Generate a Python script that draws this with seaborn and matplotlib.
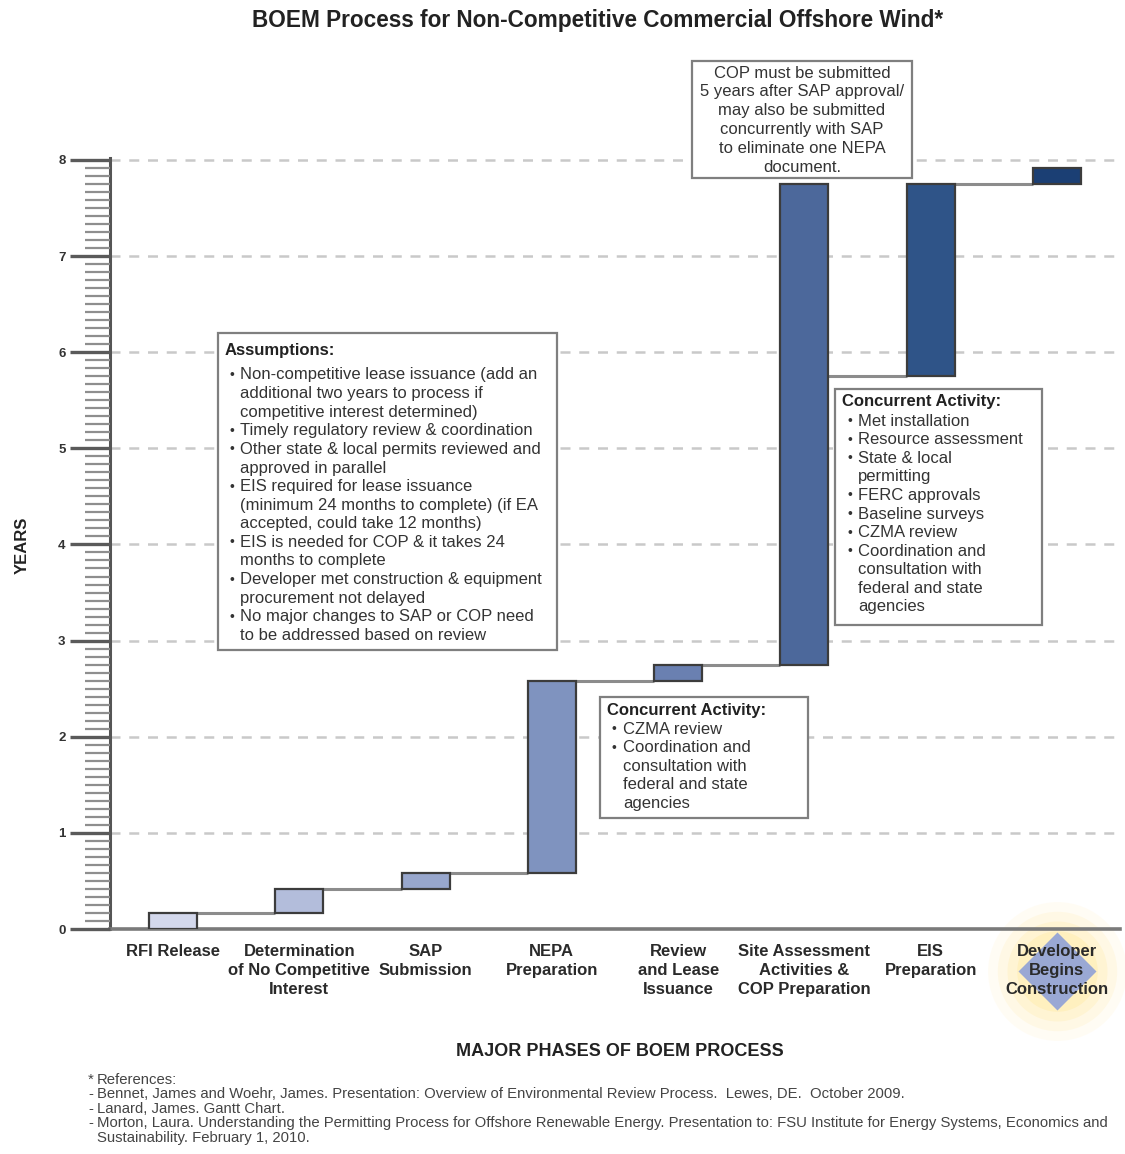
#Importing the libraries
import numpy as np
import pandas as pd
import matplotlib
matplotlib.use("Agg")
import matplotlib.pyplot as plt
import matplotlib.transforms as mtransforms
from matplotlib.patches import Rectangle
from matplotlib.ticker import MultipleLocator
import seaborn as sns

#chart data
phases = ["RFI Release", "Determination\nof No Competitive\nInterest", "SAP\nSubmission",
          "NEPA\nPreparation", "Review\nand Lease\nIssuance",
          "Site Assessment\nActivities &\nCOP Preparation", "EIS\nPreparation",
          "Developer\nBegins\nConstruction"]
start_years = [0.0, 0.17, 0.42, 0.58, 2.58, 2.75, 5.75, 7.75]
end_years = [0.17, 0.42, 0.58, 2.58, 2.75, 7.75, 7.75, 7.92]
bar_colors = ["#d3d8ec", "#b3bddb", "#98a7cd", "#7f93bf", "#6a80b1", "#4c689b", "#2f5488", "#1b3f74"]
year_ticks = [0, 1, 2, 3, 4, 5, 6, 7, 8]

assumptions = [
    ["Non-competitive lease issuance (add an", "additional two years to process if", "competitive interest determined)"],
    ["Timely regulatory review & coordination"],
    ["Other state & local permits reviewed and", "approved in parallel"],
    ["EIS required for lease issuance", "(minimum 24 months to complete) (if EA", "accepted, could take 12 months)"],
    ["EIS is needed for COP & it takes 24", "months to complete"],
    ["Developer met construction & equipment", "procurement not delayed"],
    ["No major changes to SAP or COP need", "to be addressed based on review"],
]
concurrent_nepa = [["CZMA review"], ["Coordination and", "consultation with", "federal and state", "agencies"]]
concurrent_site = [["Met installation"], ["Resource assessment"], ["State & local", "permitting"],
                   ["FERC approvals"], ["Baseline surveys"], ["CZMA review"],
                   ["Coordination and", "consultation with", "federal and state", "agencies"]]
cop_note = ["COP must be submitted", "5 years after SAP approval/", "may also be submitted",
            "concurrently with SAP", "to eliminate one NEPA", "document."]
references = ["Bennet, James and Woehr, James. Presentation: Overview of Environmental Review Process.  Lewes, DE.  October 2009.",
              "Lanard, James. Gantt Chart.",
              "Morton, Laura. Understanding the Permitting Process for Offshore Renewable Energy. Presentation to: FSU Institute for Energy Systems, Economics and",
              "Sustainability. February 1, 2010."]

df = pd.DataFrame({"phase": phases, "start": start_years, "end": end_years})
df["duration"] = df["end"] - df["start"]

sns.set_style("white")
plt.rcParams["font.family"] = ["Liberation Sans", "DejaVu Sans"]

W, H = 1125, 1154
fig = plt.figure(figsize=(W / 100, H / 100), dpi=100)
ax = fig.add_axes([110 / W, 1 - 929 / H, 1010 / W, 771 / H])

#bars floating from start to end
sns.barplot(data=df, x="phase", y="duration", order=phases, bottom=df["start"].values,
            width=0.38, color=bar_colors[0], saturation=1, errorbar=None,
            edgecolor="#3c3c3c", linewidth=1.6, zorder=3, ax=ax)
for patch, c in zip(ax.patches, bar_colors):
    patch.set_facecolor(c)

#connector lines between bars
x_idx = np.arange(len(phases))
ax.hlines(start_years[1:], x_idx[:-1] + 0.19, x_idx[1:] - 0.19, color="#8c8c8c", lw=2.2, zorder=2)

#dashed gridlines
for y in year_ticks[1:]:
    ax.axhline(y, color="#c9c9c9", lw=1.8, ls=(0, (4, 3.5)), zorder=0.5)

ax.set_axisbelow(False)
ax.set_xlim(-0.5, 7.5)
ax.set_ylim(0, 8.02)
ax.set_yticks(year_ticks)
ax.yaxis.set_minor_locator(MultipleLocator(1 / 12))
ax.tick_params(axis="y", which="both", left=True)
ax.tick_params(axis="y", which="major", length=29, width=2.4, color="#5a5a5a", labelsize=9.5, pad=3, labelcolor="#333333")
ax.tick_params(axis="y", which="minor", length=18, width=1.6, color="#8e8e8e")
ax.tick_params(axis="x", length=0, pad=11, labelsize=12, labelcolor="#2a2a2a")
for lbl in ax.get_yticklabels() + ax.get_xticklabels():
    lbl.set_fontweight("bold")
for lbl in ax.get_xticklabels():
    lbl.set_linespacing(1.32)
ax.set_xlabel("")
ax.set_ylabel("")
sns.despine(ax=ax)
ax.spines["left"].set_color("#555555")
ax.spines["left"].set_linewidth(2.2)
ax.spines["bottom"].set_color("#7a7a7a")
ax.spines["bottom"].set_linewidth(2.6)

#diamond with glow behind last label
trans = mtransforms.blended_transform_factory(ax.transData, ax.transAxes)
yd = (929 - 971) / 771
for ms, a in [(100, 0.08), (86, 0.12), (72, 0.16), (58, 0.22)]:
    ax.plot([7], [yd], "o", ms=ms, color="#ffe27a", alpha=a, mec="none", transform=trans, clip_on=False, zorder=1)
ax.plot([7], [yd], "D", ms=40, color="#9aa8d4", mec="none", transform=trans, clip_on=False, zorder=1.5)

#text boxes
def fx(px):
    return px / W

def fy(py):
    return 1 - py / H

def draw_box(x0, y0, x1, y1):
    fig.add_artist(Rectangle((fx(x0), fy(y1)), (x1 - x0) / W, (y1 - y0) / H, transform=fig.transFigure,
                             facecolor="white", edgecolor="#7f7f7f", lw=1.6))

def bullet_box(title, items, tx, ty, bx, lx, ly, dy):
    fig.text(fx(tx), fy(ty), title, fontsize=12, fontweight="bold", color="#222222", va="center")
    k = 0
    for item in items:
        for j, line in enumerate(item):
            if j == 0:
                fig.text(fx(bx), fy(ly + k * dy), "\u2022", fontsize=10, color="#333333", va="center")
            fig.text(fx(lx), fy(ly + k * dy), line, fontsize=12, color="#333333", va="center")
            k += 1

draw_box(218, 333, 557, 650)
bullet_box("Assumptions:", assumptions, 225, 350, 229, 240, 375, 18.6)

draw_box(600, 697, 808, 818)
bullet_box("Concurrent Activity:", concurrent_nepa, 607, 710, 611, 623, 729, 18.6)

draw_box(835, 389, 1042, 625)
bullet_box("Concurrent Activity:", concurrent_site, 842, 402, 847, 858, 421, 18.6)

draw_box(692, 61, 912, 178)
for i, line in enumerate(cop_note):
    fig.text(fx(802), fy(73 + i * 18.8), line, fontsize=12, color="#333333", ha="center", va="center")

#titles
fig.text(fx(598), fy(20), "BOEM Process for Non-Competitive Commercial Offshore Wind*",
         fontsize=16.3, fontweight="bold", color="#222222", ha="center", va="center")
fig.text(fx(22), fy(545), "YEARS", fontsize=12, fontweight="bold", color="#222222",
         rotation=90, ha="center", va="center")
fig.text(fx(620), fy(1052), "MAJOR PHASES OF BOEM PROCESS", fontsize=13, fontweight="bold",
         color="#222222", ha="center", va="center")

#references
fig.text(fx(88), fy(1080), "*", fontsize=10.7, color="#444444", va="center")
fig.text(fx(97), fy(1080), "References:", fontsize=10.7, color="#444444", va="center")
for i, line in enumerate(references):
    yy = 1094 + i * 14.6
    if i != 3:
        fig.text(fx(88), fy(yy), "-", fontsize=10.7, color="#444444", va="center")
    fig.text(fx(97), fy(yy), line, fontsize=10.7, color="#444444", va="center")

plt.savefig("out.png", dpi=100)
